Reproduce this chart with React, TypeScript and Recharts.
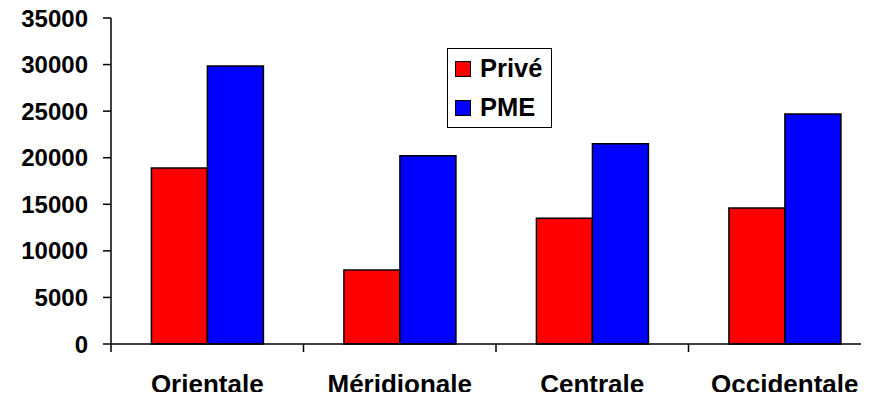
import { BarChart, Bar, XAxis, YAxis, Legend } from 'recharts';

const regions = ['Orientale', 'Méridionale', 'Centrale', 'Occidentale'];
const prive = [18900, 7950, 13500, 14600];
const pme = [29850, 20200, 21500, 24700];
const yTicks = [0, 5000, 10000, 15000, 20000, 25000, 30000, 35000];

const series = [
  { key: 'prive', name: 'Privé', color: '#ff0000' },
  { key: 'pme', name: 'PME', color: '#0000ff' },
];

const data = regions.map((region, i) => ({ region, prive: prive[i], pme: pme[i] }));

const font = 'Arial, "Liberation Sans", sans-serif';

// category label plus tick marks on the band edges, like the excel original
const RegionTick = (props: any) => {
  const { x, y, payload, index, width, visibleTicksCount } = props;
  const half = payload?.offset || (width && visibleTicksCount ? width / visibleTicksCount / 2 : 0);
  const isLast = index === regions.length - 1;
  return (
    <g>
      <line x1={x - half} x2={x - half} y1={y} y2={y + 8} stroke="#000" strokeWidth={1.5} />
      {isLast && <line x1={x + half} x2={x + half} y1={y} y2={y + 8} stroke="#000" strokeWidth={1.5} />}
      <text
        x={x}
        y={y + 49}
        textAnchor="middle"
        fill="#000"
        fontFamily={font}
        fontWeight="bold"
        fontSize={26}
      >
        {payload.value}
      </text>
    </g>
  );
};

const LegendBox = () => (
  <div
    style={{
      border: '1.5px solid #000',
      background: '#fff',
      width: 105,
      boxSizing: 'border-box',
      fontFamily: font,
      fontWeight: 'bold',
      fontSize: 25.5,
      color: '#000',
      paddingLeft: 7,
    }}
  >
    {series.map((s) => (
      <div key={s.key} style={{ display: 'flex', alignItems: 'center', height: 39 }}>
        <span
          style={{
            width: 16,
            height: 16,
            boxSizing: 'border-box',
            background: s.color,
            border: '1.5px solid #000',
            marginRight: 9,
          }}
        />
        <span>{s.name}</span>
      </div>
    ))}
  </div>
);

export default function App() {
  return (
    <div style={{ margin: -8, width: 869, height: 400, overflow: 'hidden', background: '#fff' }}>
      <BarChart
        width={900}
        height={400}
        data={data}
        margin={{ top: 18, right: 19, left: 0, bottom: 16 }}
        barCategoryGap="21%"
        barGap={0}
      >
        <XAxis
          dataKey="region"
          height={40}
          axisLine={{ stroke: '#000', strokeWidth: 1.5 }}
          tickLine={false}
          tickSize={0}
          tickMargin={0}
          interval={0}
          tick={<RegionTick />}
        />
        <YAxis
          width={111}
          domain={[0, 35000]}
          ticks={yTicks}
          interval={0}
          tickSize={8}
          tickMargin={15}
          axisLine={{ stroke: '#000', strokeWidth: 1.5 }}
          tickLine={{ stroke: '#000', strokeWidth: 1.5 }}
          tick={{ fill: '#000', fontFamily: font, fontWeight: 'bold', fontSize: 24 }}
        />
        <Legend
          layout="vertical"
          align="center"
          verticalAlign="middle"
          content={<LegendBox />}
          wrapperStyle={{ left: 447, top: 48, width: 105 }}
        />
        {series.map((s) => (
          <Bar
            key={s.key}
            dataKey={s.key}
            name={s.name}
            fill={s.color}
            stroke="#000"
            strokeWidth={1.5}
            isAnimationActive={false}
          />
        ))}
      </BarChart>
    </div>
  );
}
